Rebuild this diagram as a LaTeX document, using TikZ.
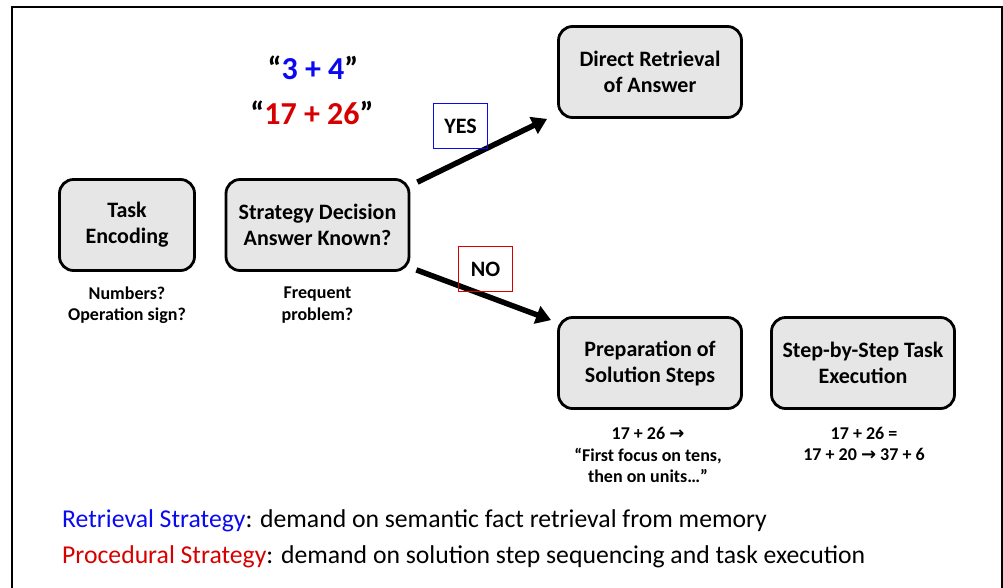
\documentclass[tikz,border=0pt]{standalone}
\usepackage{fontspec}
\setmainfont{Carlito}
\newfontfamily\symfont{DejaVu Sans}
\usetikzlibrary{arrows.meta}
\definecolor{boxgray}{RGB}{230,230,230}
\definecolor{myblue}{RGB}{10,10,240}
\definecolor{myred}{RGB}{215,0,0}
\newcommand{\rarr}{{\symfont\bfseries\char"2192}}
\begin{document}
\begin{tikzpicture}[x=1pt,y=-1pt,
  box/.style={draw, line width=2.8pt, fill=boxgray, rounded corners=14pt,
    minimum width=183pt, minimum height=91pt, align=center, inner sep=0pt,
    font=\fontsize{22}{26}\selectfont\bfseries},
  lbl/.style={align=center, inner sep=0pt, font=\fontsize{18}{21.5}\selectfont\bfseries},
  tag/.style={line width=1.4pt, minimum width=54pt, minimum height=45pt, inner sep=0pt,
    font=\fontsize{22}{26}\selectfont\bfseries},
  arr/.style={line width=5.5pt, -{Triangle[length=15pt,width=18pt]}},
  big/.style={inner sep=0pt, font=\fontsize{32}{38}\selectfont\bfseries},
  legend/.style={anchor=base west, inner sep=0pt, font=\fontsize{25.7}{30}\selectfont}
]
\useasboundingbox (0,0) rectangle (1003,587);
\draw[line width=2pt] (12,600) -- (12,7) -- (1002,7) -- (1002,600);

\node[box, minimum width=135pt] (te) at (127,225) {Task\\Encoding};
\node[box] (sd) at (317.5,225) {Strategy Decision\\Answer Known?};
\node[box] (dr) at (650,72) {Direct Retrieval\\of Answer};
\node[box] (prep) at (650,363) {Preparation of\\Solution Steps};
\node[box] (exec) at (863,363) {Step-by-Step Task\\Execution};

\node[lbl] (tel) at (127,305) {Numbers?\\Operation sign?};
\node[lbl] (sdl) at (317.5,305) {Frequent\\problem?};
\node[lbl] (prepl) at (648,455) {17 + 26 \rarr\\“First focus on tens,\\then on units…”};
\node[lbl] (execl) at (864,444) {17 + 26 =\\17 + 20 \rarr{} 37 + 6};

\node[big] (ex1) at (313,68) {“\textcolor{myblue}{3 + 4}”};
\node[big] (ex2) at (312,113) {“\textcolor{myred}{17 + 26}”};

\draw[arr] ([shift={(7,4)}]sd.north east) -- ([shift={(-10,0)}]dr.south west);
\draw[arr] ([shift={(6,-2)}]sd.south east) -- ([shift={(-6,4)}]prep.north west);

\node[tag, draw=myblue] (yes) at (460.5,126) {YES};
\node[tag, draw=myred] (no) at (485.5,269) {NO};

\node[legend] (l1) at (62,527) {\textcolor{myblue}{Retrieval Strategy}: demand on semantic fact retrieval from memory};
\node[legend] (l2) at (62,563) {\textcolor{myred}{Procedural Strategy}: demand on solution step sequencing and task execution};
\end{tikzpicture}
\end{document}
